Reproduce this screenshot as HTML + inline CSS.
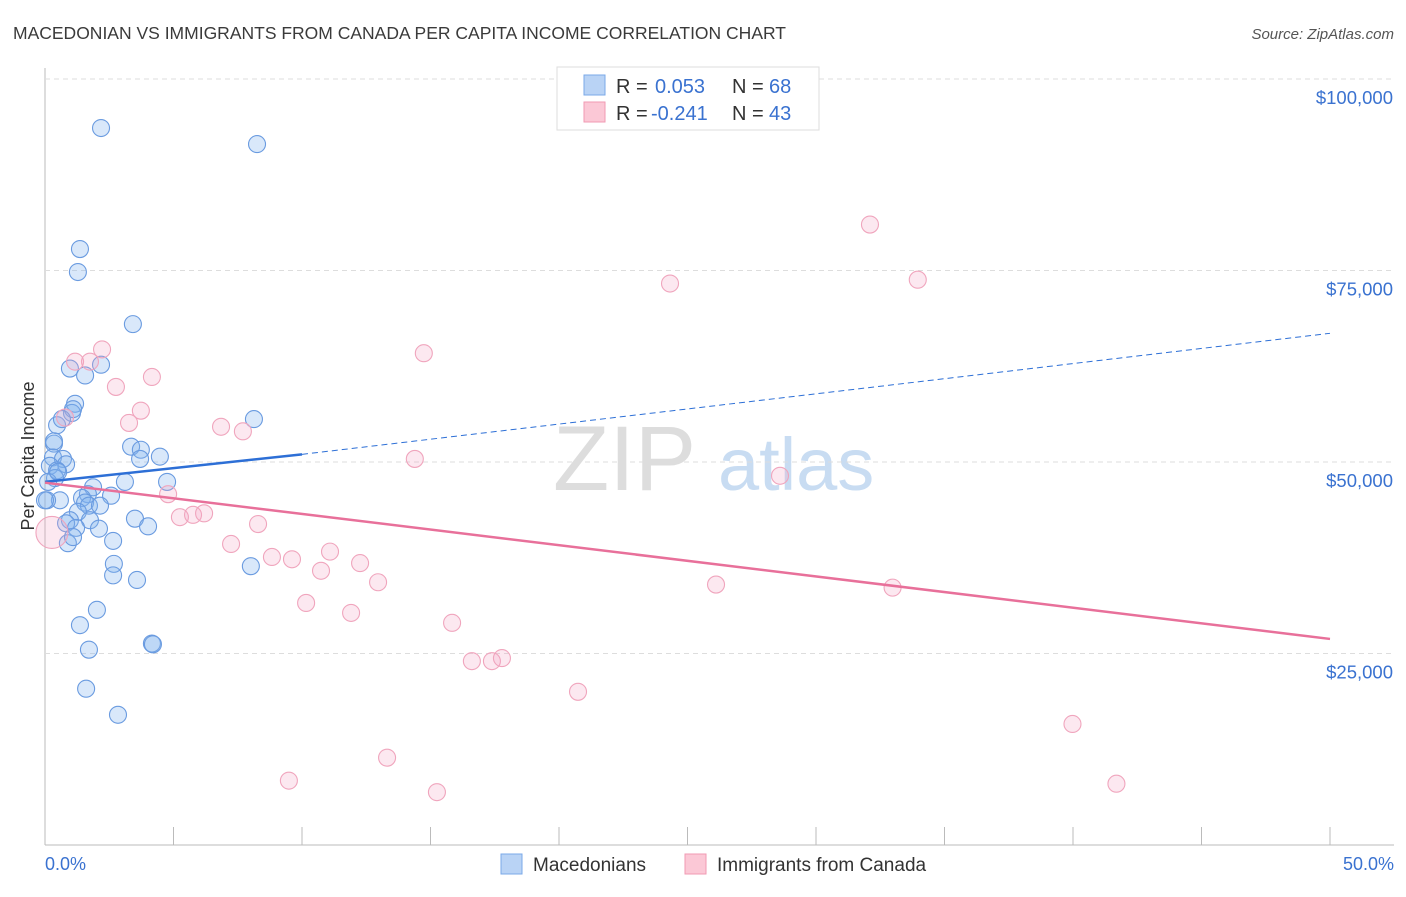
<!DOCTYPE html>
<html><head><meta charset="utf-8"><style>
body{margin:0;background:#fff;font-family:"Liberation Sans",sans-serif}
svg text{font-family:"Liberation Sans",sans-serif}
</style></head><body>
<svg id="chart" width="1406" height="892" xmlns="http://www.w3.org/2000/svg">
<text x="13" y="39" font-size="17.5" fill="#3a3a3a">MACEDONIAN VS IMMIGRANTS FROM CANADA PER CAPITA INCOME CORRELATION CHART</text>
<text x="1394" y="39" font-size="15" fill="#555" text-anchor="end" font-style="italic">Source: ZipAtlas.com</text>
<text x="553" y="490" font-size="92" fill="#ddd" font-family="Liberation Serif">ZIP</text>
<text x="718" y="490" font-size="74" fill="#c8dcf2">atlas</text>
<g id="grid"></g>
<g id="marks"></g>
<g>
<rect x="557" y="67" width="262" height="63" fill="#fff" stroke="#ddd"/>
<rect x="584" y="75" width="21" height="20" fill="#b9d3f5" stroke="#7aa8e8"/>
<text x="616" y="93" font-size="20" fill="#333">R = </text><text x="655" y="93" font-size="20" fill="#3a72d0">0.053</text>
<text x="732" y="93" font-size="20" fill="#333">N = </text><text x="769" y="93" font-size="20" fill="#3a72d0">68</text>
<rect x="584" y="102" width="21" height="20" fill="#fbc8d6" stroke="#f09ab3"/>
<text x="616" y="120" font-size="20" fill="#333">R = </text><text x="651" y="120" font-size="20" fill="#3a72d0">-0.241</text>
<text x="732" y="120" font-size="20" fill="#333">N = </text><text x="769" y="120" font-size="20" fill="#3a72d0">43</text>
</g>
<text transform="translate(34,456) rotate(-90)" font-size="18" fill="#333" text-anchor="middle">Per Capita Income</text>
<text x="45" y="870" font-size="18" fill="#3a72d0">0.0%</text>
<text x="1394" y="870" font-size="18" fill="#3a72d0" text-anchor="end">50.0%</text>
<g>
<rect x="501" y="854" width="21" height="20" fill="#b9d3f5" stroke="#7aa8e8"/>
<text x="533" y="871" font-size="19" fill="#333">Macedonians</text>
<rect x="685" y="854" width="21" height="20" fill="#fbc8d6" stroke="#f09ab3"/>
<text x="717" y="871" font-size="19" fill="#333">Immigrants from Canada</text>
</g>
</svg>
<script>
const yTicks=[25000,50000,75000,100000];
const yTickLabels=["$25,000","$50,000","$75,000","$100,000"];
const blueX=[2.18,8.25,1.36,1.28,3.42,0.97,1.56,2.18,1.17,1.05,0.47,1.09,0.66,0.35,3.35,3.73,3.70,4.47,0.31,0.70,0.82,0.19,0.47,0.39,0.12,8.13,3.11,4.75,1.87,2.57,1.67,1.44,0.58,0.08,1.56,1.71,1.28,0.97,1.75,0.82,1.21,2.10,3.50,4.01,2.65,0.89,2.68,2.65,3.58,8.01,2.02,1.36,4.16,4.20,1.71,1.60,2.84,0.35,0.51,1.09,2.14,0.0];
const blueY=[93600,91500,77800,74800,68000,62200,61300,62700,57600,56400,54800,56900,55600,52400,52000,51600,50400,50700,50600,50400,49700,49500,48900,47900,47400,55600,47400,47400,46700,45600,45800,45300,45000,45000,44700,44300,43500,42400,42400,42000,41400,41300,42600,41600,39700,39400,36700,35200,34600,36400,30700,28700,26300,26200,25500,20400,17000,52700,48700,40200,44300,45000];
const pinkX=[32.10,24.32,33.96,14.74,1.17,1.75,2.22,4.16,2.76,3.73,3.27,6.85,7.70,0.78,14.39,28.60,4.79,5.25,5.76,6.19,8.29,7.24,8.83,9.61,11.09,10.74,12.26,12.96,10.16,11.91,15.84,16.61,17.39,17.78,20.74,26.11,32.98,39.98,13.31,9.49,15.25,41.69,0.27];
const pinkY=[81000,73300,73800,64200,63100,63100,64700,61100,59800,56700,55100,54600,54000,55800,50400,48200,45800,42800,43100,43300,41900,39300,37600,37300,38300,35800,36800,34300,31600,30300,29000,24000,24000,24400,20000,34000,33600,15800,11400,8400,6900,8000,40800];
const X0=45,X1=1330,Y0=845,PPD=766/100000;
const xs=v=>X0+v/50*(X1-X0), ys=v=>Y0-v*PPD;
const NS="http://www.w3.org/2000/svg";
const g=document.getElementById('grid'),m=document.getElementById('marks');
function el(t,a,p){const e=document.createElementNS(NS,t);for(const k in a)e.setAttribute(k,a[k]);p.appendChild(e);return e;}
let ax=el('line',{x1:45,y1:68,x2:45,y2:845,stroke:'#bbb'},g);


let bx=el('line',{x1:45,y1:845,x2:1394,y2:845,stroke:'#bbb'},g);


for(let i=0;i<=10;i++){const x=xs(i*5);let t=el('line',{x1:x,y1:827,x2:x,y2:845,stroke:'#bbb'},g);

}
yTicks.forEach((v,i)=>{let l=el('line',{x1:45,y1:ys(v),x2:1394,y2:ys(v),stroke:'#ddd','stroke-dasharray':'5,4'},g);


let t=el('text',{x:1393,y:ys(v)+25,'font-size':18.5,fill:'#3a72d0','text-anchor':'end'},g);t.textContent=yTickLabels[i];

});
blueX.forEach((v,i)=>{let c=el('circle',{cx:xs(v),cy:ys(blueY[i]),r:8.5,fill:'rgba(130,178,238,0.3)',stroke:'#6a9be0','stroke-width':1.1},m);

});
pinkX.forEach((v,i)=>{let c=el('circle',{cx:xs(v),cy:ys(pinkY[i]),r:i==pinkX.length-1?16:8.5,fill:'rgba(245,165,195,0.25)',stroke:'#f0a5bd','stroke-width':1.1},m);

});
const blueLine=[0,47400,10,51000,50,66800], pinkLine=[0,47300,50,26900];
let l1=el('line',{x1:xs(0),y1:ys(blueLine[1]),x2:xs(10),y2:ys(blueLine[3]),stroke:'#2d6fd6','stroke-width':2.5},m);


let l2=el('line',{x1:xs(10),y1:ys(blueLine[3]),x2:xs(50),y2:ys(blueLine[5]),stroke:'#2d6fd6','stroke-width':1,'stroke-dasharray':'6,4'},m);


let l3=el('line',{x1:xs(0),y1:ys(pinkLine[1]),x2:xs(50),y2:ys(pinkLine[3]),stroke:'#e8709a','stroke-width':2.5},m);


</script>
</body></html>
